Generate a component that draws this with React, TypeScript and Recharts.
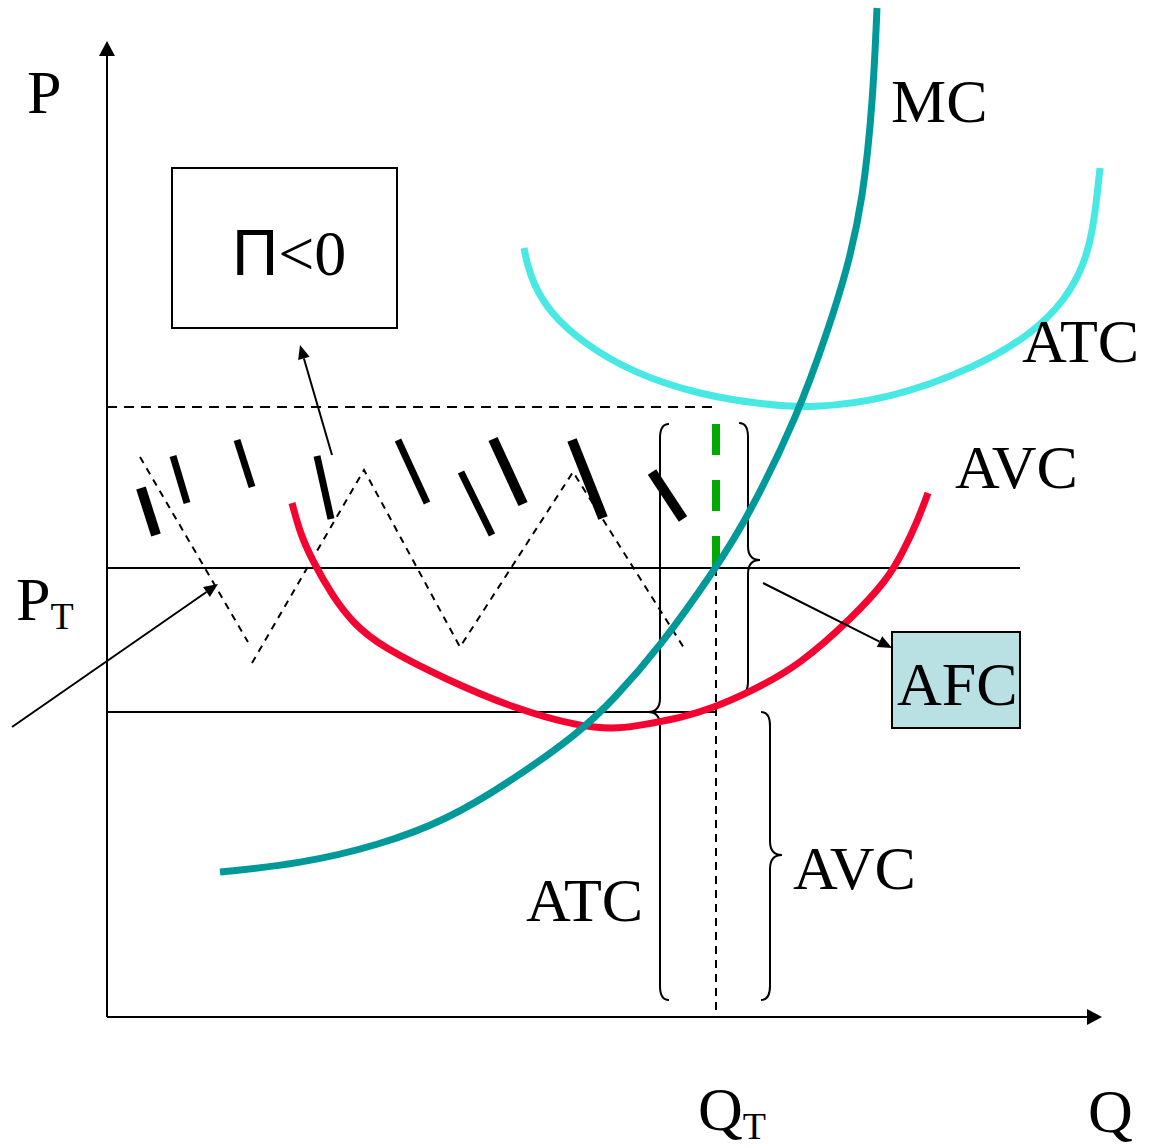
import React from 'react';
import {
  ComposedChart, Line, XAxis, YAxis, ReferenceLine, ReferenceArea, ReferenceDot,
} from 'recharts';

// curves (q = quantity, p = price)
const mcCurve = [
  { q: 2.26, p: 2.9 }, { q: 3.86, p: 3.06 }, { q: 5.46, p: 3.44 }, { q: 6.8, p: 3.94 },
  { q: 8.12, p: 4.74 }, { q: 9.46, p: 5.7 }, { q: 10.12, p: 6.34 }, { q: 11.06, p: 7.4 },
  { q: 12.18, p: 8.98 }, { q: 12.82, p: 10.0 }, { q: 13.82, p: 12.04 }, { q: 14.42, p: 13.74 },
  { q: 14.8, p: 14.94 }, { q: 15.12, p: 16.34 }, { q: 15.32, p: 18.34 }, { q: 15.4, p: 20.18 },
];

const atcCurve = [
  { q: 8.34, p: 15.38 }, { q: 8.4, p: 15.08 }, { q: 8.52, p: 14.68 }, { q: 8.86, p: 14.08 },
  { q: 9.52, p: 13.48 }, { q: 10.52, p: 12.88 }, { q: 11.86, p: 12.44 }, { q: 13.2, p: 12.24 },
  { q: 14.06, p: 12.18 }, { q: 15.6, p: 12.34 }, { q: 17.4, p: 13.0 }, { q: 18.52, p: 13.68 },
  { q: 19.16, p: 14.34 }, { q: 19.52, p: 15.0 }, { q: 19.72, p: 15.68 }, { q: 19.86, p: 16.98 },
];

const avcCurve = [
  { q: 3.7, p: 10.28 }, { q: 3.86, p: 9.68 }, { q: 4.1, p: 9.14 }, { q: 4.52, p: 8.4 },
  { q: 4.92, p: 7.88 }, { q: 5.46, p: 7.42 }, { q: 6.8, p: 6.74 }, { q: 8.12, p: 6.18 },
  { q: 9.46, p: 5.8 }, { q: 10.26, p: 5.76 }, { q: 10.8, p: 5.86 }, { q: 11.46, p: 5.98 },
  { q: 12.12, p: 6.18 }, { q: 12.86, p: 6.5 }, { q: 13.86, p: 7.04 }, { q: 14.92, p: 8.0 },
  { q: 15.6, p: 8.74 }, { q: 15.92, p: 9.3 }, { q: 16.22, p: 9.94 }, { q: 16.42, p: 10.48 },
];

// key levels
const qT = 12.18;
const pT = 8.98;
const atcAtQ = 12.2;
const avcAtQ = 6.1;
const greenTop = 11.86;

// loss area zigzag (dashed)
const zigzagA = [{ q: 0.66, p: 11.2 }, { q: 2.82, p: 7.5 }];
const zigzagB = [
  { q: 2.9, p: 7.08 }, { q: 5.14, p: 10.94 }, { q: 7.06, p: 7.4 },
  { q: 9.32, p: 10.9 }, { q: 11.54, p: 7.38 },
];

// hatch strokes in the loss area
const hatches = [
  [0.68, 10.58, 0.98, 9.64], [1.32, 11.22, 1.6, 10.28], [2.6, 11.54, 2.9, 10.6],
  [4.2, 11.22, 4.48, 9.96], [5.82, 11.54, 6.4, 10.28], [7.08, 10.9, 7.7, 9.64],
  [7.72, 11.56, 8.32, 10.26], [9.3, 11.54, 9.92, 9.98], [10.9, 10.9, 11.52, 9.96],
];
const hatchWidths = [10, 7, 7, 7, 7, 7, 10, 10, 10];

// arrows [from q, from p, to q, to p]
const arrows = [
  [-1.9, 5.8, 2.22, 8.66],
  [4.5, 11.24, 3.86, 13.44],
  [13.12, 8.68, 15.7, 7.38],
];

// braces: q, top p, tip p, bottom p, direction of tip
const braces = [
  { q: 11.06, top: 11.86, tip: 6.1, bottom: 0.34, dir: -1 },
  { q: 12.82, top: 11.88, tip: 9.14, bottom: 6.44, dir: 1 },
  { q: 13.26, top: 6.1, tip: 3.24, bottom: 0.34, dir: 1 },
];

const labels = [
  { text: 'P', q: -1.6, p: 18.08 },
  { text: 'MC', q: 15.68, p: 17.9 },
  { text: 'ATC', q: 18.3, p: 13.1 },
  { text: 'AVC', q: 16.96, p: 10.58 },
  { text: 'AFC', q: 15.8, p: 6.24 },
  { text: 'ATC', q: 8.38, p: 1.92 },
  { text: 'AVC', q: 13.72, p: 2.56 },
  { text: 'P', sub: 'T', q: -1.82, p: 7.94 },
  { text: 'Q', sub: 'T', q: 11.82, p: -2.26 },
  { text: 'Q', q: 19.62, p: -2.3 },
];

const SERIF = "'Liberation Serif', 'Times New Roman', serif";

const arrowShape = (head: number, wide: number) => (props: any) => {
  const { x1, y1, x2, y2 } = props;
  const a = Math.atan2(y2 - y1, x2 - x1);
  const bx = x2 - head * Math.cos(a);
  const by = y2 - head * Math.sin(a);
  const nx = -Math.sin(a) * wide / 2;
  const ny = Math.cos(a) * wide / 2;
  return (
    <g>
      <line x1={x1} y1={y1} x2={bx} y2={by} stroke="#000" strokeWidth={2} />
      <polygon points={`${x2},${y2} ${bx + nx},${by + ny} ${bx - nx},${by - ny}`} fill="#000" />
    </g>
  );
};

// half of a curly brace between two points on a vertical line
const braceHalf = (dir: number, upper: boolean) => (props: any) => {
  const { x1, y1, y2 } = props;
  const x = x1;
  const e = 9;
  const c = 14;
  const t = 12;
  const d = upper
    ? `M${x - dir * e},${y1} Q${x},${y1} ${x},${y1 + c} L${x},${y2 - c} Q${x},${y2} ${x + dir * t},${y2}`
    : `M${x + dir * t},${y1} Q${x},${y1} ${x},${y1 + c} L${x},${y2 - c} Q${x},${y2} ${x - dir * e},${y2}`;
  return <path d={d} fill="none" stroke="#000" strokeWidth={2} />;
};

const textShape = (text: string, sub?: string) => (props: any) => (
  <text x={props.cx} y={props.cy} fontFamily={SERIF} fontSize={62} fill="#000">
    {text}
    {sub && <tspan fontSize={38} dy={9}>{sub}</tspan>}
  </text>
);

export default function App() {
  return (
    <div style={{ position: 'absolute', left: 0, top: 0, width: 1153, height: 1148, background: '#fff' }}>
      <ComposedChart width={1153} height={1148} margin={{ top: 0, right: 46, bottom: 131, left: 107 }}>
        <XAxis type="number" dataKey="q" domain={[0, 20]} hide />
        <YAxis type="number" dataKey="p" domain={[0, 20.34]} hide />

        <ReferenceArea x1={1.3} x2={5.8} y1={13.78} y2={16.98} fill="#fff" fillOpacity={1}
          stroke="#000" strokeWidth={2} />
        <ReferenceArea x1={15.7} x2={18.26} y1={5.78} y2={7.7} fill="#B9E0E3" fillOpacity={1}
          stroke="#000" strokeWidth={2} />

        <ReferenceLine segment={[{ x: 0, y: atcAtQ }, { x: qT, y: atcAtQ }]} stroke="#000"
          strokeWidth={2} strokeDasharray="10 7" ifOverflow="visible" />
        <ReferenceLine segment={[{ x: 0, y: pT }, { x: 18.26, y: pT }]} stroke="#000"
          strokeWidth={2} ifOverflow="visible" />
        <ReferenceLine segment={[{ x: 0, y: avcAtQ }, { x: qT, y: avcAtQ }]} stroke="#000"
          strokeWidth={2} ifOverflow="visible" />
        <ReferenceLine segment={[{ x: qT, y: pT }, { x: qT, y: 0 }]} stroke="#000"
          strokeWidth={2} strokeDasharray="8 6" ifOverflow="visible" />
        <ReferenceLine segment={[{ x: qT, y: greenTop }, { x: qT, y: pT }]} stroke="#00AA00"
          strokeWidth={8} strokeDasharray="31 25" ifOverflow="visible" />

        {braces.map((b, i) => (
          <ReferenceLine key={`bu${i}`} segment={[{ x: b.q, y: b.top }, { x: b.q, y: b.tip }]}
            ifOverflow="visible" shape={braceHalf(b.dir, true)} />
        ))}
        {braces.map((b, i) => (
          <ReferenceLine key={`bl${i}`} segment={[{ x: b.q, y: b.tip }, { x: b.q, y: b.bottom }]}
            ifOverflow="visible" shape={braceHalf(b.dir, false)} />
        ))}

        {hatches.map((h, i) => (
          <ReferenceLine key={`h${i}`} segment={[{ x: h[0], y: h[1] }, { x: h[2], y: h[3] }]}
            stroke="#000" strokeWidth={hatchWidths[i]} ifOverflow="visible" />
        ))}

        <Line data={zigzagA} dataKey="p" stroke="#000" strokeWidth={2} strokeDasharray="7 6"
          dot={false} isAnimationActive={false} type="linear" />
        <Line data={zigzagB} dataKey="p" stroke="#000" strokeWidth={2} strokeDasharray="7 6"
          dot={false} isAnimationActive={false} type="linear" />

        <Line data={avcCurve} dataKey="p" stroke="#F40431" strokeWidth={7} dot={false}
          isAnimationActive={false} type="basis" />
        <Line data={atcCurve} dataKey="p" stroke="#48E8E4" strokeWidth={7} dot={false}
          isAnimationActive={false} type="basis" />
        <Line data={mcCurve} dataKey="p" stroke="#009999" strokeWidth={7} dot={false}
          isAnimationActive={false} type="basis" />

        {/* axes */}
        <ReferenceLine segment={[{ x: 0, y: 0 }, { x: 0, y: 19.52 }]} ifOverflow="visible"
          shape={arrowShape(15, 16)} />
        <ReferenceLine segment={[{ x: 0, y: 0 }, { x: 19.9, y: 0 }]} ifOverflow="visible"
          shape={arrowShape(15, 16)} />

        {arrows.map((a, i) => (
          <ReferenceLine key={`a${i}`} segment={[{ x: a[0], y: a[1] }, { x: a[2], y: a[3] }]}
            ifOverflow="visible" shape={arrowShape(14, 12)} />
        ))}

        {labels.map((l, i) => (
          <ReferenceDot key={`l${i}`} x={l.q} y={l.p} r={0} ifOverflow="visible"
            shape={textShape(l.text, l.sub)} />
        ))}
        <ReferenceDot x={2.5} y={14.84} r={0} ifOverflow="visible"
          shape={(props: any) => (
            <text x={props.cx} y={props.cy} fontFamily={SERIF} fontSize={64} fill="#000">
              <tspan fontFamily="'Liberation Sans', Arial, sans-serif">Π</tspan>&lt;0
            </text>
          )} />
      </ComposedChart>
    </div>
  );
}
